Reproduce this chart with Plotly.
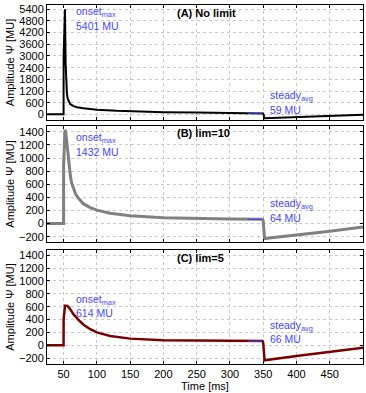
import plotly.graph_objects as go
from plotly.subplots import make_subplots

# (A) no limit
t_a = [25, 49.9, 50, 51, 52, 53, 54, 55, 56, 58, 60, 65, 70, 80, 100, 130, 150, 200, 250, 300, 349, 350, 352, 375, 400, 450, 500]
psi_a = [0, 0, 3000, 5000, 5401, 2600, 1500, 1050, 820, 620, 520, 420, 370, 310, 240, 180, 150, 110, 90, 75, 62, 40, -200, -175, -140, -80, -15]

# (B) lim=10
t_b = [25, 49.9, 50, 52, 53, 54, 55, 57, 60, 62, 65, 68, 72, 76, 80, 90, 100, 120, 150, 200, 250, 300, 349, 350, 352, 400, 450, 500]
psi_b = [0, 0, 900, 1432, 1400, 1320, 1200, 1000, 740, 620, 520, 450, 390, 340, 300, 245, 205, 158, 120, 88, 76, 70, 66, 40, -229, -178, -117, -52]

# (C) lim=5
t_c = [25, 49.9, 50, 52, 55, 57, 60, 65, 72, 80, 90, 100, 120, 150, 200, 250, 300, 349, 350, 352, 400, 450, 500]
psi_c = [0, 0, 400, 614, 614, 600, 560, 480, 400, 320, 250, 200, 145, 104, 80, 72, 68, 66, 40, -233, -166, -104, -36]

panel_titles = ["(A) No limit", "(B) lim=10", "(C) lim=5"]
onset_max = [5401, 1432, 614]
steady_avg = [59, 64, 66]
avg_window = [327, 348]

colors = ["#000000", "#808080", "#7a0000"]
widths = [2, 3, 2.5]
blue = "#4646ff"
font = "Liberation Sans, Arial, sans-serif"

fig = make_subplots(rows=3, cols=1, shared_xaxes=True)

for i, (t, psi) in enumerate([(t_a, psi_a), (t_b, psi_b), (t_c, psi_c)]):
    fig.add_trace(go.Scatter(x=t, y=psi, mode="lines",
                             line=dict(color=colors[i], width=widths[i]),
                             showlegend=False), row=i + 1, col=1)
    fig.add_trace(go.Scatter(x=avg_window, y=[steady_avg[i]] * 2, mode="lines",
                             line=dict(color=blue, width=1),
                             showlegend=False), row=i + 1, col=1)

domains = [[0.6797, 1.0], [0.34, 0.663], [0.0, 0.3175]]
yranges = [[-290, 5620], [-280, 1490], [-290, 1480]]
yticks = [list(range(0, 5401, 600)), list(range(-200, 1401, 200)), list(range(-200, 1401, 200))]

# text positions in axis-domain units: onset, onset value, steady, steady value, title
ypos = [[0.94, 0.817, 0.21, 0.087, 0.93],
        [0.897, 0.776, 0.329, 0.209, 0.94],
        [0.561, 0.447, 0.333, 0.219, 0.93]]

axis_common = dict(showline=True, linecolor="#000000", linewidth=1, mirror="ticks",
                   ticks="inside", ticklen=3, tickcolor="#000000",
                   showgrid=True, gridcolor="#c8c8c8", griddash="dot", gridwidth=1,
                   zeroline=False, tickfont=dict(family=font, size=11, color="#000"))

for i in range(3):
    n = "" if i == 0 else str(i + 1)
    fig.layout["yaxis" + n].update(domain=domains[i], range=yranges[i], tickvals=yticks[i],
                                   title=dict(text="Amplitude Ψ [MU]", standoff=2,
                                              font=dict(family=font, size=11, color="#000")),
                                   **axis_common)
    fig.layout["xaxis" + n].update(range=[25, 500], tickvals=list(range(50, 451, 50)),
                                   showticklabels=(i == 2), **axis_common)
    yd = "y" + n + " domain"
    xr = "x" + n
    y = ypos[i]
    fig.add_annotation(x=66, y=y[0], xref=xr, yref=yd, text="onset<sub>max</sub>",
                       showarrow=False, xanchor="left", yanchor="middle",
                       font=dict(family=font, size=10.5, color=blue))
    fig.add_annotation(x=66, y=y[1], xref=xr, yref=yd, text=f"{onset_max[i]} MU",
                       showarrow=False, xanchor="left", yanchor="middle",
                       font=dict(family=font, size=10.5, color=blue))
    fig.add_annotation(x=357, y=y[2], xref=xr, yref=yd, text="steady<sub>avg</sub>",
                       showarrow=False, xanchor="left", yanchor="middle",
                       font=dict(family=font, size=10.5, color=blue))
    fig.add_annotation(x=357, y=y[3], xref=xr, yref=yd, text=f"{steady_avg[i]} MU",
                       showarrow=False, xanchor="left", yanchor="middle",
                       font=dict(family=font, size=10.5, color=blue))
    fig.add_annotation(x=218, y=y[4], xref=xr, yref=yd, text="<b>" + panel_titles[i] + "</b>",
                       showarrow=False, xanchor="left", yanchor="middle",
                       font=dict(family=font, size=11, color="#000"))

fig.layout.xaxis3.title = dict(text="Time [ms]", standoff=2, font=dict(family=font, size=11, color="#000"))

fig.update_layout(width=366, height=393, margin=dict(l=47, r=3, t=5, b=29),
                  plot_bgcolor="white", paper_bgcolor="white")

# drop the page's default body margin so the figure sits at the window corner
fig.write_html("out.html", config={"displayModeBar": False},
               post_script="document.body.style.margin='0';")
